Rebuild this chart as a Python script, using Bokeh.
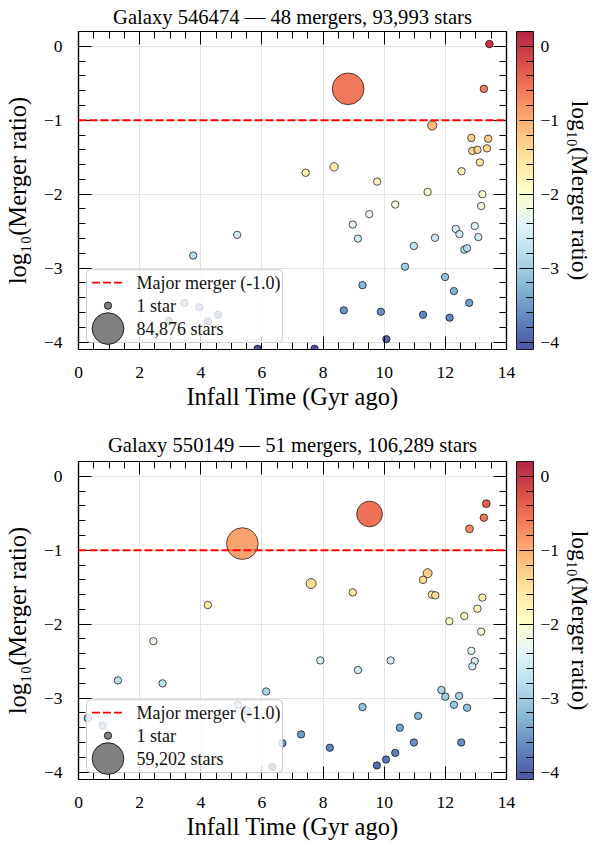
import numpy as np
from bokeh.plotting import figure
from bokeh.layouts import column
from bokeh.models import (ColumnDataSource, LinearColorMapper, ColorBar, Span, Range1d,
                          LinearAxis, SingleIntervalTicker, CustomJSTickFormatter, Title)
from bokeh.transform import transform
from bokeh.palettes import RdYlBu11
from bokeh.core.properties import value
from bokeh.embed import file_html
from bokeh.resources import INLINE

# ---------------------------------------------------------------- data
# Galaxy 546474: infall time (Gyr ago), log10 merger ratio, stellar particles
g1_id = 546474
g1_time = [13.44, 8.82, 13.26, 11.57, 12.85, 13.40, 12.88, 13.05, 13.36, 13.13,
           7.43, 8.36, 12.53, 9.77, 11.42, 13.21, 13.17, 10.36, 9.51, 8.97,
           9.14, 12.34, 12.46, 12.96, 13.08, 11.66, 10.97, 12.62, 12.71, 10.68,
           11.99, 12.28, 9.29, 12.78, 8.68, 9.89, 11.27, 12.14, 10.07, 7.72,
           5.86, 3.75, 5.19, 3.47, 3.95, 4.56, 2.95, 4.23]
g1_logratio = [0.03, -0.575, -0.575, -1.07, -1.24, -1.25, -1.415, -1.40, -1.38, -1.57,
               -1.71, -1.63, -1.69, -1.83, -1.97, -2.00, -2.16, -2.14, -2.27, -2.41,
               -2.60, -2.47, -2.54, -2.43, -2.58, -2.59, -2.70, -2.75, -2.73, -2.98,
               -3.12, -3.31, -3.23, -3.47, -3.57, -3.59, -3.63, -3.67, -3.96, -4.09,
               -4.09, -2.83, -2.55, -3.47, -3.53, -3.63, -3.71, -3.72]
g1_stars = [417, 84876, 210, 2900, 260, 180, 190, 230, 170, 140,
            220, 1500, 150, 110, 160, 120, 90, 80, 130, 100,
            70, 140, 110, 90, 60, 120, 100, 50, 80, 90,
            70, 60, 90, 100, 60, 70, 50, 40, 30, 20,
            20, 40, 60, 30, 20, 40, 20, 30]

# Galaxy 550149
g2_id = 550149
g2_time = [5.36, 9.52, 7.61, 11.42, 13.34, 13.26, 12.79, 4.23, 8.97, 11.27,
           11.56, 11.67, 13.21, 13.05, 12.62, 12.13, 13.17, 2.45, 12.85, 12.96,
           12.88, 7.91, 10.21, 9.14, 1.29, 2.75, 6.14, 11.87, 12.00, 12.45,
           12.28, 12.71, 9.29, 0.30, 0.79, 5.21, 5.52, 11.11, 10.51, 7.28,
           6.67, 10.97, 12.52, 8.22, 10.36, 10.06, 9.76, 6.34, 3.10, 8.60,
           11.80]
g2_logratio = [-0.91, -0.51, -1.45, -1.31, -0.37, -0.56, -0.71, -1.74, -1.57, -1.40,
               -1.60, -1.61, -1.64, -1.79, -1.89, -1.96, -2.10, -2.23, -2.36, -2.50,
               -2.57, -2.49, -2.49, -2.62, -2.76, -2.80, -2.91, -2.89, -2.98, -2.97,
               -3.09, -3.13, -3.12, -3.27, -3.37, -3.09, -3.17, -3.24, -3.40, -3.49,
               -3.61, -3.60, -3.60, -3.67, -3.74, -3.83, -3.91, -3.93, -4.35, -4.52,
               -4.28]
g2_stars = [59202, 37800, 2900, 1700, 417, 210, 460, 150, 200, 190,
            170, 150, 140, 120, 110, 100, 90, 80, 110, 90,
            70, 100, 80, 90, 70, 60, 80, 120, 100, 90,
            80, 70, 110, 40, 50, 60, 50, 70, 60, 80,
            40, 50, 60, 50, 40, 30, 30, 20, 20, 10,
            20]

MAJOR_MERGER = -1.0
X_LIMITS = (0, 14)
Y_LIMITS = (-4.1, 0.2)

# ---------------------------------------------------------------- style
FONT = "Liberation Serif"
W, H = 597, 421
BORDER_L, BORDER_R = 78, 91
FRAME_W = W - BORDER_L - BORDER_R
SIZE_MIN, SIZE_MAX = 7.3, 31.7
INK = "black"


def smooth_palette(base, n=256):
    base = list(base)
    if base[0].lower() == "#a50026":      # low values -> blue
        base = base[::-1]
    rgb = np.array([[int(c[i:i + 2], 16) for i in (1, 3, 5)] for c in base], float)
    t = np.linspace(0, 1, len(base))
    tt = np.linspace(0, 1, n)
    chans = [np.interp(tt, t, rgb[:, k]) for k in range(3)]
    return ["#%02x%02x%02x" % tuple(int(round(ch[i])) for ch in chans) for i in range(n)]


PALETTE = smooth_palette(RdYlBu11)


def marker_size(stars, max_stars):
    frac = np.asarray(stars, float) / max_stars
    return np.sqrt(SIZE_MIN ** 2 + (SIZE_MAX ** 2 - SIZE_MIN ** 2) * frac)


def minus_formatter():
    return CustomJSTickFormatter(code="return tick < 0 ? '\u2212' + (-tick) : String(tick);")


def blank_formatter():
    return CustomJSTickFormatter(code="return '';")


def make_panel(gid, t, lr, stars, top, bottom, title_standoff):
    n = len(t)
    total = int(sum(stars))
    smax = max(stars)
    frame_h = H - top - bottom

    p = figure(width=W, height=H, x_range=Range1d(*X_LIMITS), y_range=Range1d(*Y_LIMITS),
               output_backend="svg", toolbar_location=None,
               min_border_left=BORDER_L, min_border_right=BORDER_R,
               min_border_top=top, min_border_bottom=bottom,
               x_axis_label="Infall Time (Gyr ago)",
               y_axis_label="log\u2081\u2080(Merger ratio)",
               title=f"Galaxy {gid} \u2014 {n} mergers, {total:,} stars")
    p.background_fill_color = "white"
    p.border_fill_color = "white"
    p.outline_line_color = INK
    p.outline_line_width = 1.2

    p.title.text_font = FONT
    p.title.text_font_size = "20.6px"
    p.title.text_font_style = "normal"
    p.title.text_color = INK
    p.title.align = "center"
    p.title.standoff = title_standoff

    xt = SingleIntervalTicker(interval=2, num_minor_ticks=4)
    yt = SingleIntervalTicker(interval=1, num_minor_ticks=5)
    p.xaxis.ticker = xt
    p.yaxis.ticker = yt
    p.yaxis.formatter = minus_formatter()

    for ax in (p.xaxis[0], p.yaxis[0]):
        ax.axis_line_color = INK
        ax.axis_line_width = 1.2
        ax.major_tick_in = 13
        ax.major_tick_out = 0
        ax.minor_tick_in = 7
        ax.minor_tick_out = 0
        ax.major_tick_line_color = INK
        ax.minor_tick_line_color = INK
        ax.major_label_text_font = FONT
        ax.major_label_text_font_size = "17.5px"
        ax.major_label_text_color = INK
        ax.axis_label_text_font = FONT
        ax.axis_label_text_font_size = "24.5px"
        ax.axis_label_text_font_style = "normal"
        ax.axis_label_text_color = INK
    p.xaxis.major_label_standoff = 17
    p.xaxis.axis_label_standoff = 2
    p.yaxis.major_label_standoff = 16
    p.yaxis.axis_label_standoff = 10

    # tick marks on the top and right edges of the frame (no labels)
    for side, tk in (("above", xt), ("right", yt)):
        ax = LinearAxis(ticker=tk, major_tick_in=13, major_tick_out=0,
                        minor_tick_in=7, minor_tick_out=0,
                        formatter=blank_formatter(),
                        axis_line_color=INK, axis_line_width=1.2,
                        major_tick_line_color=INK, minor_tick_line_color=INK)
        p.add_layout(ax, side)

    # empty strip that keeps the colour bar clear of the frame
    spacer = LinearAxis(ticker=yt, major_tick_in=0, major_tick_out=10,
                        minor_tick_in=0, minor_tick_out=0,
                        formatter=blank_formatter(), axis_line_color=None,
                        major_tick_line_color=None, minor_tick_line_color=None)
    p.add_layout(spacer, "right")

    p.grid.grid_line_color = "#e3e3e3"
    p.grid.grid_line_width = 1

    mapper = LinearColorMapper(palette=PALETTE, low=Y_LIMITS[0], high=Y_LIMITS[1])

    src = ColumnDataSource(dict(t=t, lr=lr, stars=stars, size=marker_size(stars, smax)))
    p.scatter("t", "lr", size="size", source=src,
              fill_color=transform("lr", mapper), fill_alpha=0.85,
              line_color="black", line_alpha=0.85, line_width=0.8)

    p.add_layout(Span(location=MAJOR_MERGER, dimension="width", line_color="red",
                      line_dash="8 3", line_width=1.8))

    # legend, laid out in frame pixels
    p.extra_x_ranges = {"lx": Range1d(0, FRAME_W)}
    p.extra_y_ranges = {"ly": Range1d(0, frame_h)}
    p.quad(left=[8], right=[204], bottom=[7], top=[80], x_range_name="lx", y_range_name="ly",
           fill_color="white", fill_alpha=0.8, line_color="#cccccc", line_width=1,
           border_radius=4, level="annotation")
    p.line([13.5, 43.5], [67, 67], x_range_name="lx", y_range_name="ly",
           line_color="red", line_dash="8 3", line_width=1.8, level="annotation")
    legend_stars = [1, smax]
    p.scatter([29.5, 29.5], [44, 21], size=marker_size(legend_stars, smax),
              x_range_name="lx", y_range_name="ly", fill_color="#808080",
              line_color="black", line_width=0.8, level="annotation")
    labels = [f"Major merger ({MAJOR_MERGER:.1f})",
              f"{legend_stars[0]:,} star",
              f"{legend_stars[1]:,} stars"]
    p.text([58, 58, 58], [67, 44, 21], text=labels, x_range_name="lx", y_range_name="ly",
           text_baseline="middle", text_font=value(FONT), text_font_size="18px",
           text_color="#111111", level="annotation")

    cb = ColorBar(color_mapper=mapper, width=17, padding=0, margin=0,
                  ticker=SingleIntervalTicker(interval=1, num_minor_ticks=5),
                  formatter=minus_formatter(), scale_alpha=0.85,
                  major_tick_in=14, major_tick_out=0, minor_tick_in=7, minor_tick_out=0,
                  major_tick_line_color=INK, minor_tick_line_color=INK,
                  bar_line_color=INK, bar_line_width=1, label_standoff=7,
                  major_label_text_font=FONT, major_label_text_font_size="17.5px",
                  major_label_text_color=INK,
                  border_line_color=None, background_fill_alpha=0)
    p.add_layout(cb, "right")
    p.add_layout(Title(text="log\u2081\u2080(Merger ratio)", align="center",
                       vertical_align="top",
                       text_font=FONT, text_font_size="23.5px", text_color=INK,
                       text_font_style="normal", standoff=4), "right")
    return p


p1 = make_panel(g1_id, g1_time, g1_logratio, g1_stars, top=30, bottom=72, title_standoff=7)
p2 = make_panel(g2_id, g2_time, g2_logratio, g2_stars, top=40, bottom=62, title_standoff=11)
layout = column(p1, p2, spacing=0)

open("out.html", "w").write(file_html(layout, INLINE))
